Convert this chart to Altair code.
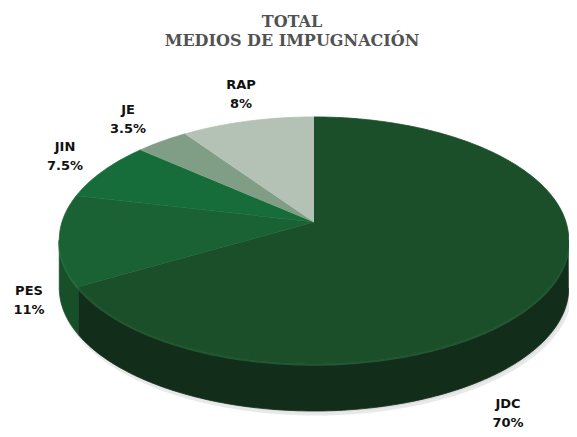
import numpy as np
import pandas as pd
import altair as alt

# ---- data ----
categories = ["JDC", "PES", "JIN", "JE", "RAP"]
shares = [66.7, 11.9, 7.8, 3.9, 9.7]          # slice sizes as drawn
pct_labels = ["70%", "11%", "7.5%", "3.5%", "8%"]  # printed labels
title_lines = ["TOTAL", "MEDIOS DE IMPUGNACIÓN"]

# ---- styling ----
top_colors = ["#1b4f2a", "#1a6233", "#176d3a", "#7f9e85", "#b4c2b5"]
side_colors = ["#122d1a", "#174f28", "#145a31", "#6a866f", "#9aa89b"]
rim_colors = ["#2b6a3d", "#2c7a47", "#2a8150", "#93b099", "#c4d0c5"]
label_x = [508, 29, 65, 128, 241]
label_y = [404, 291, 147, 110, 85]

# ---- projection of a tilted disc (perspective) ----
CX, CY, RX, RY, E, DEPTH = 314, 222, 252, 120.4, 0.146, 48


def proj(a):
    r = np.radians(a)
    w = 1 + E * np.cos(r)
    return CX + RX * np.sin(r) / w, CY - RY * np.cos(r) / w


total = sum(shares)
spans = np.array(shares) / total * 360
ends = np.cumsum(spans)
starts = ends - spans
vis_lo = np.degrees(np.arccos(-E))
vis_hi = 360 - vis_lo

top_rows, side_rows, rim_rows = [], [], []
for c, s, e in zip(categories, starts, ends):
    n = max(int(np.ceil(e - s)), 2)
    angs = np.linspace(s, e, n + 1)
    xs, ys = proj(angs)
    pts = [(CX, CY)] + list(zip(xs, ys))
    for i, (x, y) in enumerate(pts):
        top_rows.append(dict(slice=c, i=i, x=x, y=y))
    lo, hi = max(s, vis_lo), min(e, vis_hi)
    if hi > lo:
        n = max(int(np.ceil(hi - lo)), 2)
        angs = np.linspace(lo, hi, n + 1)
        xs, ys = proj(angs)
        pts = list(zip(xs, ys)) + [(x, y + DEPTH) for x, y in zip(xs[::-1], ys[::-1])]
        for i, (x, y) in enumerate(pts):
            side_rows.append(dict(slice=c, i=i, x=x, y=y))
        for i, (x, y) in enumerate(zip(xs, ys)):
            rim_rows.append(dict(slice=c, i=i, x=x, y=y + 1.5))

# soft shadow under the disc
sh_angs = np.linspace(0, 360, 361)
sh_x, sh_y = proj(sh_angs)
shadow_df = pd.DataFrame({"i": range(len(sh_angs)), "x": sh_x + 2, "y": sh_y + DEPTH + 3})

top_df = pd.DataFrame(top_rows)
side_df = pd.DataFrame(side_rows)
rim_df = pd.DataFrame(rim_rows)

# page pixels 8..569 x 8..429 are the drawing area (8px page margin)
xs_ = alt.Scale(domain=[8, 569], nice=False, zero=False)
ys_ = alt.Scale(domain=[8, 429], nice=False, zero=False, reverse=True)
X = alt.X("x:Q", scale=xs_, axis=None)
Y = alt.Y("y:Q", scale=ys_, axis=None)


def poly_layer(df, colors, width=0.8):
    sc = alt.Scale(domain=categories, range=colors)
    return alt.Chart(df).mark_line(strokeWidth=width).encode(
        x=X, y=Y, order=alt.Order("i:Q"),
        fill=alt.Fill("slice:N", scale=sc, legend=None),
        stroke=alt.Stroke("slice:N", scale=sc, legend=None),
    )


shadow = alt.Chart(shadow_df).mark_line(
    fill="#d6d6d6", stroke="#e4e4e4", strokeWidth=3, opacity=0.8
).encode(x=X, y=Y, order=alt.Order("i:Q"))
sides = poly_layer(side_df, side_colors)
tops = poly_layer(top_df, top_colors)
rim = alt.Chart(rim_df).mark_line(strokeWidth=2.5, opacity=0.7).encode(
    x=X, y=Y, order=alt.Order("i:Q"),
    stroke=alt.Stroke("slice:N", scale=alt.Scale(domain=categories, range=rim_colors), legend=None),
)

lab_rows = []
for c, p, lx, ly in zip(categories, pct_labels, label_x, label_y):
    lab_rows.append(dict(t=c, x=lx, y=ly))
    lab_rows.append(dict(t=p, x=lx, y=ly + 19))
lab_df = pd.DataFrame(lab_rows)
labels = alt.Chart(lab_df).mark_text(
    font="DejaVu Sans", fontWeight="bold", fontSize=13, color="#111111",
    align="center", baseline="middle",
).encode(x=X, y=Y, text="t:N")

title_df = pd.DataFrame({"t": title_lines, "x": [292, 292], "y": [27, 46]})
title = alt.Chart(title_df).mark_text(
    font="DejaVu Serif", fontWeight="bold", fontSize=16, color="#525252",
    align="center", baseline="alphabetic",
).encode(x=X, y=Y, text="t:N")

chart = alt.layer(shadow, sides, rim, tops, labels, title).resolve_scale(
    fill="independent", stroke="independent"
).properties(
    width=561, height=421, autosize=alt.AutoSizeParams(type="none"), padding=0,
    background="white",
).configure_view(stroke=None)

chart.save("out.html", embed_options={"renderer": "svg", "actions": False})
